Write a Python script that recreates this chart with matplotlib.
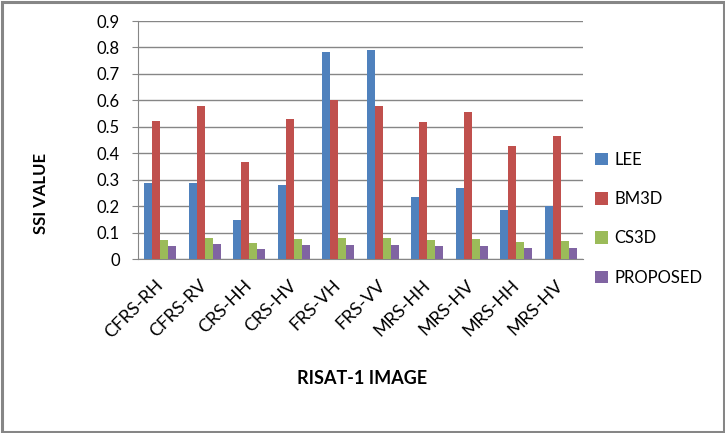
import matplotlib
matplotlib.use('Agg')
import matplotlib.pyplot as plt
from matplotlib.patches import Rectangle
import numpy as np

plt.rcParams['font.family'] = ['Lato', 'DejaVu Sans']

images = ['CFRS-RH', 'CFRS-RV', 'CRS-HH', 'CRS-HV', 'FRS-VH', 'FRS-VV',
          'MRS-HH', 'MRS-HV', 'MRS-HH', 'MRS-HV']
lee = [0.286, 0.286, 0.147, 0.280, 0.783, 0.790, 0.236, 0.268, 0.185, 0.202]
bm3d = [0.522, 0.579, 0.367, 0.529, 0.601, 0.579, 0.518, 0.556, 0.427, 0.465]
cs3d = [0.072, 0.081, 0.062, 0.077, 0.081, 0.081, 0.072, 0.077, 0.066, 0.069]
proposed = [0.049, 0.058, 0.039, 0.054, 0.054, 0.054, 0.050, 0.050, 0.043, 0.043]

series = [('LEE', lee, '#4F81BD'), ('BM3D', bm3d, '#C0504D'),
          ('CS3D', cs3d, '#9BBB59'), ('PROPOSED', proposed, '#8064A2')]

W, H = 725, 433
fig = plt.figure(figsize=(W / 100, H / 100), dpi=100)
ax = fig.add_axes([138 / W, 1 - 259 / H, (583 - 138) / W, (259 - 21) / H])

x = np.arange(len(images))
bw = 0.18
for i, (name, vals, col) in enumerate(series):
    ax.bar(x + (i - 1.5) * bw, vals, bw, color=col, label=name, zorder=3)

ax.set_xlim(-0.5, len(images) - 0.5)
ax.set_ylim(0, 0.9)
ax.set_yticks(np.arange(0, 0.91, 0.1))
ax.set_yticklabels(['0'] + ['%.1f' % v for v in np.arange(0.1, 0.91, 0.1)], fontsize=12)
ax.yaxis.grid(True, color='#868686', linewidth=1, zorder=0)
ax.set_xticks(x)
ax.set_xticklabels(images, rotation=45, ha='right', va='center', rotation_mode='anchor', fontsize=13)
ax.tick_params(axis='x', length=0, pad=17)
ax.tick_params(axis='y', length=4, color='#868686', pad=9)
for s in ['top', 'right']:
    ax.spines[s].set_visible(False)
for s in ['left', 'bottom']:
    ax.spines[s].set_color('#868686')

fig.text(41 / W, 1 - 193 / H, 'SSI VALUE', rotation=90, ha='center', va='center',
         fontsize=12, fontweight='bold')
fig.text(362 / W, 1 - 378 / H, 'RISAT-1 IMAGE', ha='center', va='center',
         fontsize=13, fontweight='bold')

fig.legend(loc='upper left', bbox_to_anchor=(588 / W, 1 - 145 / H), frameon=False,
           fontsize=12, handlelength=0.8, handleheight=0.8, handletextpad=0.4,
           labelspacing=1.4, borderaxespad=0)

fig.patches.append(Rectangle((1.5 / W, 1.5 / H), (W - 3) / W, (H - 3) / H,
                             transform=fig.transFigure, fill=False,
                             edgecolor='#868686', linewidth=2.2))

fig.savefig('out.png', dpi=100)
